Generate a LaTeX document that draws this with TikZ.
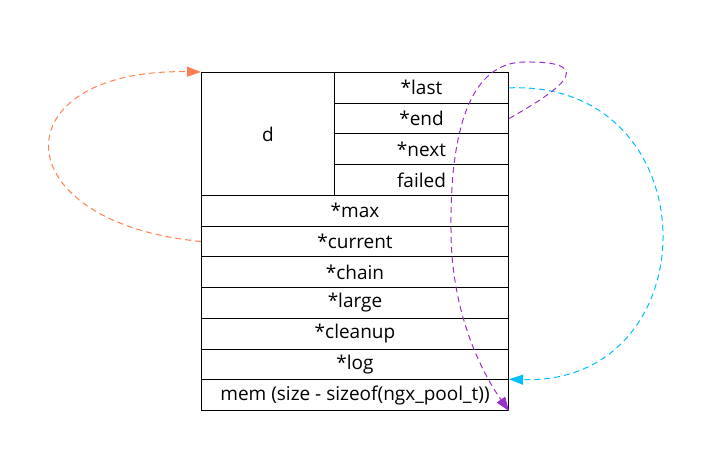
\documentclass[tikz,border=0pt]{standalone}
\usepackage{fontspec}
\setmainfont{Open Sans}
\usetikzlibrary{arrows.meta}
\definecolor{orangeL}{HTML}{FF7F50}
\definecolor{cyanL}{HTML}{00BFFF}
\definecolor{purpleL}{HTML}{9932CC}
\begin{document}
\begin{tikzpicture}[x=1pt,y=-1pt,
  cell/.style={draw=black,line width=1pt,rectangle,inner sep=0pt,anchor=north west,
    minimum height=30.727pt,font=\fontsize{19}{21}\selectfont},
  wide/.style={cell,minimum width=307pt},
  side/.style={cell,minimum width=174pt},
  link/.style={dash pattern=on 6pt off 4pt,line width=1pt},
  tip/.style={-{Triangle[length=14pt,width=10pt]}}]
\useasboundingbox (0,0) rectangle (709,459);
\node[cell,minimum width=133pt,minimum height=122.909pt] (d) at (201,72) {d};
\node[side] (last) at (334,72) {*last};
\node[side] (end) at (334,102.727) {*end};
\node[side] (next) at (334,133.455) {*next};
\node[side] (failed) at (334,164.182) {failed};
\node[wide] (max) at (201,194.909) {*max};
\node[wide] (current) at (201,225.636) {*current};
\node[wide] (chain) at (201,256.364) {*chain};
\node[wide] (large) at (201,287.091) {*large};
\node[wide] (cleanup) at (201,317.818) {*cleanup};
\node[wide] (log) at (201,348.545) {*log};
\node[wide] (mem) at (201,379.273) {mem (size - sizeof(ngx\_pool\_t))};
\draw[link,tip,orangeL] (current.west) .. controls (0,222) and (0,68) .. (d.north west);
\draw[link,tip,cyanL] (last.east) .. controls (712,80) and (712,385) .. (mem.north east);
\draw[link,tip,purpleL] (end.east) .. controls (552,94) and (605,61) .. (525,62)
  .. controls (470,62) and (450,130) .. (451,230)
  .. controls (451,310) and (480,370) .. (mem.south east);
\end{tikzpicture}
\end{document}
